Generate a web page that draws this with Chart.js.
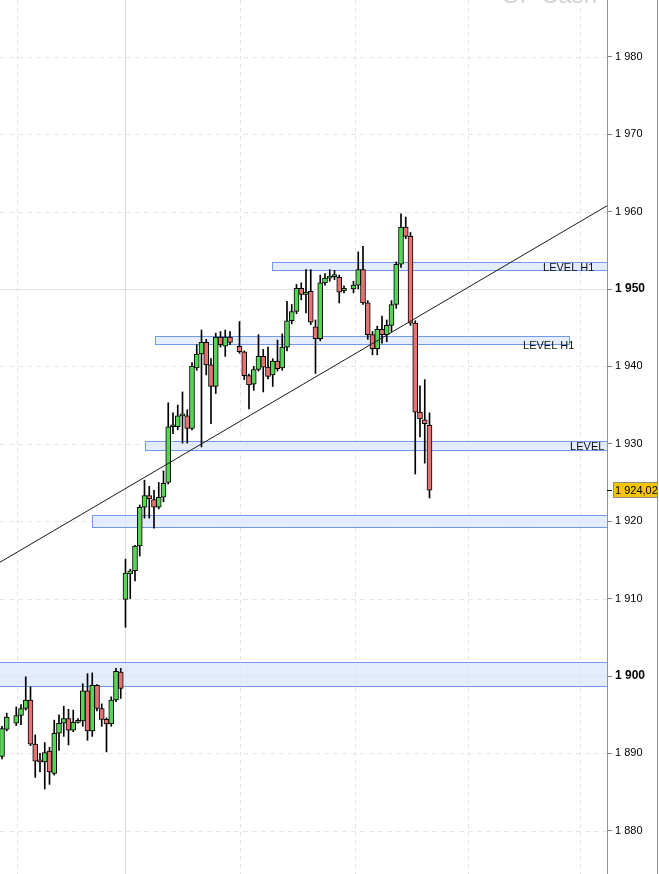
<!DOCTYPE html>
<html>
<head>
<meta charset="utf-8">
<script src="https://cdn.jsdelivr.net/npm/chart.js@4"></script>
<style>
html,body{margin:0;padding:0;background:#fff;}
canvas{display:block;}
</style>
</head>
<body>
<canvas id="c" width="659" height="874"></canvas>
<script>
// ---- data ----
const candleIdx = [0,1,3,4,5,6,7,8,9,10,11,12,13,14,15,16,17,18,19,20,21,22,23,24,25,
  26,27,28,29,30,31,32,33,34,35,36,37,38,39,40,41,42,43,44,45,46,47,48,50,51,52,53,54,55,56,57,58,
  59,60,61,62,63,64,65,66,67,68,69,70,71,72,74,75,76,77,78,79,80,81,82,83,84,85,86,87,88,89,90];
const openVals = [1889.6,1893.1,1893.9,1894.9,1895.8,1896.9,1891.2,1889.1,1888.9,1890.3,1887.4,1892.6,1893.9,1894.5,1893.0,1894.0,1894.2,1898.1,1892.9,1898.8,1895.8,1894.4,1893.8,1896.9,1900.5,
  1909.9,1913.2,1913.6,1916.8,1921.8,1923.3,1922.8,1921.8,1923.1,1925.0,1932.2,1932.2,1933.6,1933.6,1932.0,1939.8,1941.6,1943.1,1940.2,1937.4,1943.8,1942.6,1943.8,1942.6,1941.9,1938.8,1937.7,1939.6,1941.3,1939.9,1938.9,1940.7,
  1939.8,1942.5,1945.9,1947.1,1950.1,1949.3,1949.7,1945.1,1943.6,1950.8,1951.4,1951.6,1951.5,1949.8,1950.0,1950.5,1952.5,1948.2,1944.1,1942.3,1944.8,1944.1,1945.3,1948.0,1953.2,1958.0,1956.8,1945.6,1934.1,1933.1,1932.4];
const highVals = [1893.5,1895.2,1896.0,1896.3,1899.9,1898.6,1892.4,1890.0,1891.4,1890.8,1894.3,1895.0,1896.1,1895.7,1895.6,1894.5,1899.0,1900.3,1900.4,1898.9,1896.4,1894.6,1897.3,1901.0,1901.0,
  1915.1,1913.8,1916.9,1922.1,1925.3,1924.5,1924.0,1925.0,1926.5,1935.3,1934.0,1935.0,1936.7,1934.4,1940.5,1942.8,1944.7,1943.5,1941.0,1944.3,1944.5,1944.7,1944.5,1945.8,1942.0,1939.0,1940.0,1944.1,1942.2,1942.5,1941.0,1943.4,
  1944.2,1948.4,1948.0,1950.6,1950.8,1952.5,1952.5,1946.0,1951.8,1952.0,1952.5,1952.4,1951.8,1950.4,1951.0,1954.8,1955.5,1948.5,1944.5,1945.2,1946.5,1946.0,1948.5,1953.5,1959.7,1959.3,1957.3,1945.9,1937.5,1938.3,1934.0];
const lowVals = [1889.3,1892.9,1893.6,1893.7,1895.6,1891.0,1886.9,1887.6,1885.4,1886.0,1887.2,1890.4,1892.2,1891.1,1892.8,1893.9,1893.5,1891.7,1892.2,1895.5,1893.5,1890.2,1893.5,1896.7,1897.1,
  1906.3,1910.0,1912.3,1915.5,1920.4,1920.4,1919.1,1921.6,1922.5,1924.8,1931.3,1931.8,1930.1,1930.1,1931.8,1939.5,1929.6,1938.9,1932.6,1936.5,1942.5,1941.3,1942.8,1941.7,1938.3,1934.5,1936.9,1939.4,1936.7,1938.4,1937.4,1939.4,
  1939.5,1942.0,1945.5,1946.8,1948.6,1946.9,1945.4,1939.1,1943.3,1950.5,1951.0,1951.2,1948.2,1949.5,1949.5,1950.0,1948.0,1943.5,1941.5,1941.5,1943.0,1943.2,1944.5,1947.5,1952.8,1956.5,1945.3,1926.1,1930.9,1927.5,1923.0];
const closeVals = [1893.2,1894.7,1894.9,1895.8,1896.9,1891.2,1889.0,1888.9,1890.1,1887.6,1892.6,1893.9,1894.5,1893.0,1894.0,1894.2,1898.1,1892.9,1898.8,1895.8,1894.4,1893.8,1896.9,1900.6,1898.4,
  1913.3,1913.6,1916.8,1921.8,1923.3,1922.9,1921.8,1923.1,1924.9,1932.2,1932.3,1933.6,1933.7,1932.0,1940.0,1941.6,1943.1,1940.2,1937.4,1943.8,1942.8,1943.8,1943.1,1941.9,1938.8,1937.6,1939.6,1941.3,1939.9,1938.7,1940.7,1939.7,
  1942.5,1945.9,1947.1,1950.1,1949.3,1949.6,1945.7,1943.6,1950.8,1951.4,1951.6,1951.7,1949.6,1950.1,1950.5,1952.5,1948.2,1944.1,1942.3,1944.8,1944.1,1945.3,1948.0,1953.2,1958.0,1956.8,1945.6,1934.1,1933.2,1932.6,1924.02];

const yTicks = [1880,1890,1900,1910,1920,1930,1940,1950,1960,1970,1980];
const yStrong = [1900,1950];
const gridXDashed = [3.16,50.1,74.3,98.1,121.7];
const gridXSolid = [25.9];

// horizontal zones (x in candle index, y in price)
const zoneX0 = [56.8, 32.2, 30.1, 18.9, -1];
const zoneX1 = [130, 119.6, 130, 130, 130];
const zoneLow = [1952.45, 1942.9, 1929.2, 1919.25, 1898.7];
const zoneHigh = [1953.5, 1943.9, 1930.4, 1920.8, 1901.8];
const zoneLabel = ['LEVEL H1','LEVEL H1','LEVEL H1','',''];
const zoneLabelX = [113.9, 109.7, 119.6, 0, 0];
const zoneLabelY = [1952.7, 1942.7, 1929.6, 0, 0];

// trend line
const trendX = [-0.42, 127.37];
const trendY = [1914.7, 1960.75];

const lastPrice = 1924.02;
const lastPriceText = '1 924,02';
const watermark = 'GF Cash';

const X_MIN = -0.42, X_MAX = 127.37, Y_MIN = 1874.42, Y_MAX = 1987.34;

// ---- build datasets ----
const up = [], down = [], wicks = [];
candleIdx.forEach((x,k)=>{
  const o=openVals[k], c=closeVals[k];
  wicks.push({x:x, y:[lowVals[k], highVals[k]]});
  if (c >= o) up.push({x:x, y:[o,c]}); else down.push({x:x, y:[c,o]});
});

const fmt = v => { const s = String(Math.round(v)); return s.length>3 ? s.slice(0,s.length-3)+' '+s.slice(-3) : s; };

const overlay = {
  id:'overlay',
  beforeDatasetsDraw(chart){
    const {ctx, chartArea:a, scales:{x,y}} = chart;
    ctx.save();
    ctx.beginPath(); ctx.rect(a.left,a.top,a.right-a.left,a.bottom-a.top); ctx.clip();
    // watermark
    ctx.fillStyle='#d4d4d4'; ctx.font='24px "Liberation Sans", Arial, sans-serif';
    ctx.textAlign='right'; ctx.textBaseline='alphabetic';
    ctx.fillText(watermark, 597, 3);
    // horizontal grid
    ctx.lineWidth=1;
    yTicks.forEach(v=>{
      const py = Math.round(y.getPixelForValue(v))+0.5;
      if (yStrong.includes(v)) { ctx.setLineDash([]); ctx.strokeStyle='#e2e2e2'; }
      else { ctx.setLineDash([5,4]); ctx.strokeStyle='#e6e6e6'; }
      ctx.beginPath(); ctx.moveTo(a.left,py); ctx.lineTo(a.right,py); ctx.stroke();
    });
    // vertical grid
    ctx.setLineDash([4,4]); ctx.strokeStyle='#e4e4e4';
    gridXDashed.forEach(v=>{
      const px = Math.round(x.getPixelForValue(v))+0.5;
      ctx.beginPath(); ctx.moveTo(px,a.top); ctx.lineTo(px,a.bottom); ctx.stroke();
    });
    ctx.setLineDash([]); ctx.strokeStyle='#dcdcdc';
    gridXSolid.forEach(v=>{
      const px = Math.round(x.getPixelForValue(v))+0.5;
      ctx.beginPath(); ctx.moveTo(px,a.top); ctx.lineTo(px,a.bottom); ctx.stroke();
    });
    // zones
    zoneX0.forEach((x0,k)=>{
      const l = Math.round(x.getPixelForValue(x0))+0.5;
      const r = Math.round(Math.min(x.getPixelForValue(zoneX1[k]), a.right+2))-0.5;
      const t = Math.round(y.getPixelForValue(zoneHigh[k]))+0.5;
      const b = Math.round(y.getPixelForValue(zoneLow[k]))+0.5;
      ctx.fillStyle='rgba(220,230,252,0.75)';
      ctx.fillRect(l,t,r-l,b-t);
      ctx.strokeStyle='#6f9af0'; ctx.lineWidth=1;
      ctx.strokeRect(l,t,r-l,b-t);
    });
    ctx.restore();
  },
  afterDatasetsDraw(chart){
    const {ctx, chartArea:a, scales:{x,y}} = chart;
    ctx.save();
    ctx.beginPath(); ctx.rect(a.left,a.top,a.right-a.left,a.bottom-a.top); ctx.clip();
    ctx.fillStyle='#111'; ctx.font='11px "Liberation Sans", Arial, sans-serif';
    ctx.textAlign='left'; ctx.textBaseline='middle';
    zoneLabel.forEach((t,k)=>{
      if(!t) return;
      ctx.fillText(t, x.getPixelForValue(zoneLabelX[k]), y.getPixelForValue(zoneLabelY[k]));
    });
    ctx.restore();
    // last price box
    ctx.save();
    const py = Math.round(y.getPixelForValue(lastPrice));
    ctx.strokeStyle='#000'; ctx.lineWidth=1;
    ctx.beginPath(); ctx.moveTo(a.right, py+0.5); ctx.lineTo(a.right+5, py+0.5); ctx.stroke();
    ctx.fillStyle='#f6c500';
    ctx.fillRect(a.right+6, py-8, 45, 16);
    ctx.strokeStyle='#8d8d8d';
    ctx.strokeRect(a.right+6.5, py-7.5, 44, 15);
    ctx.fillStyle='#000'; ctx.font='11px "Liberation Sans", Arial, sans-serif';
    ctx.textAlign='left'; ctx.textBaseline='middle';
    ctx.fillText(lastPriceText, a.right+8, py+1);
    // right frame line
    ctx.strokeStyle='#8c949a';
    ctx.beginPath(); ctx.moveTo(657.5, 0); ctx.lineTo(657.5, chart.height); ctx.stroke();
    ctx.restore();
  }
};

new Chart(document.getElementById('c'), {
  type:'bar',
  data:{ datasets:[
    {type:'line', data: trendX.map((v,k)=>({x:v, y:trendY[k]})), borderColor:'#1a1a1a', borderWidth:1,
     pointRadius:0, fill:false, order:0},
    {data: up, backgroundColor:'#56d456', borderColor:'#000', borderWidth:1, borderSkipped:false,
     barThickness:5, grouped:false, minBarLength:2, order:1},
    {data: down, backgroundColor:'#e77272', borderColor:'#000', borderWidth:1, borderSkipped:false,
     barThickness:5, grouped:false, minBarLength:2, order:1},
    {data: wicks, backgroundColor:'#000', borderWidth:0, barThickness:1, grouped:false, order:2}
  ]},
  options:{
    responsive:false, animation:false, maintainAspectRatio:false,
    layout:{padding:0},
    plugins:{legend:{display:false}, tooltip:{enabled:false}},
    scales:{
      x:{type:'linear', min:X_MIN, max:X_MAX, display:false, offset:false},
      y:{position:'right', min:Y_MIN, max:Y_MAX,
        afterFit(s){ s.width = 52; s.paddingTop = 0; s.paddingBottom = 0; },
        afterBuildTicks(s){ s.ticks = yTicks.map(v=>({value:v})); },
        grid:{drawOnChartArea:false, drawTicks:true, tickLength:5, tickColor:'#7d858b'},
        border:{display:true, color:'#8c949a'},
        ticks:{padding:3, color:'#000', autoSkip:false,
          callback:(v)=>fmt(v),
          font:(c)=> yStrong.includes(c.tick && c.tick.value) ? {family:'"Liberation Sans", Arial, sans-serif', size:12, weight:'bold'} : {family:'"Liberation Sans", Arial, sans-serif', size:11}
        }
      }
    }
  },
  plugins:[overlay]
});
</script>
</body>
</html>
